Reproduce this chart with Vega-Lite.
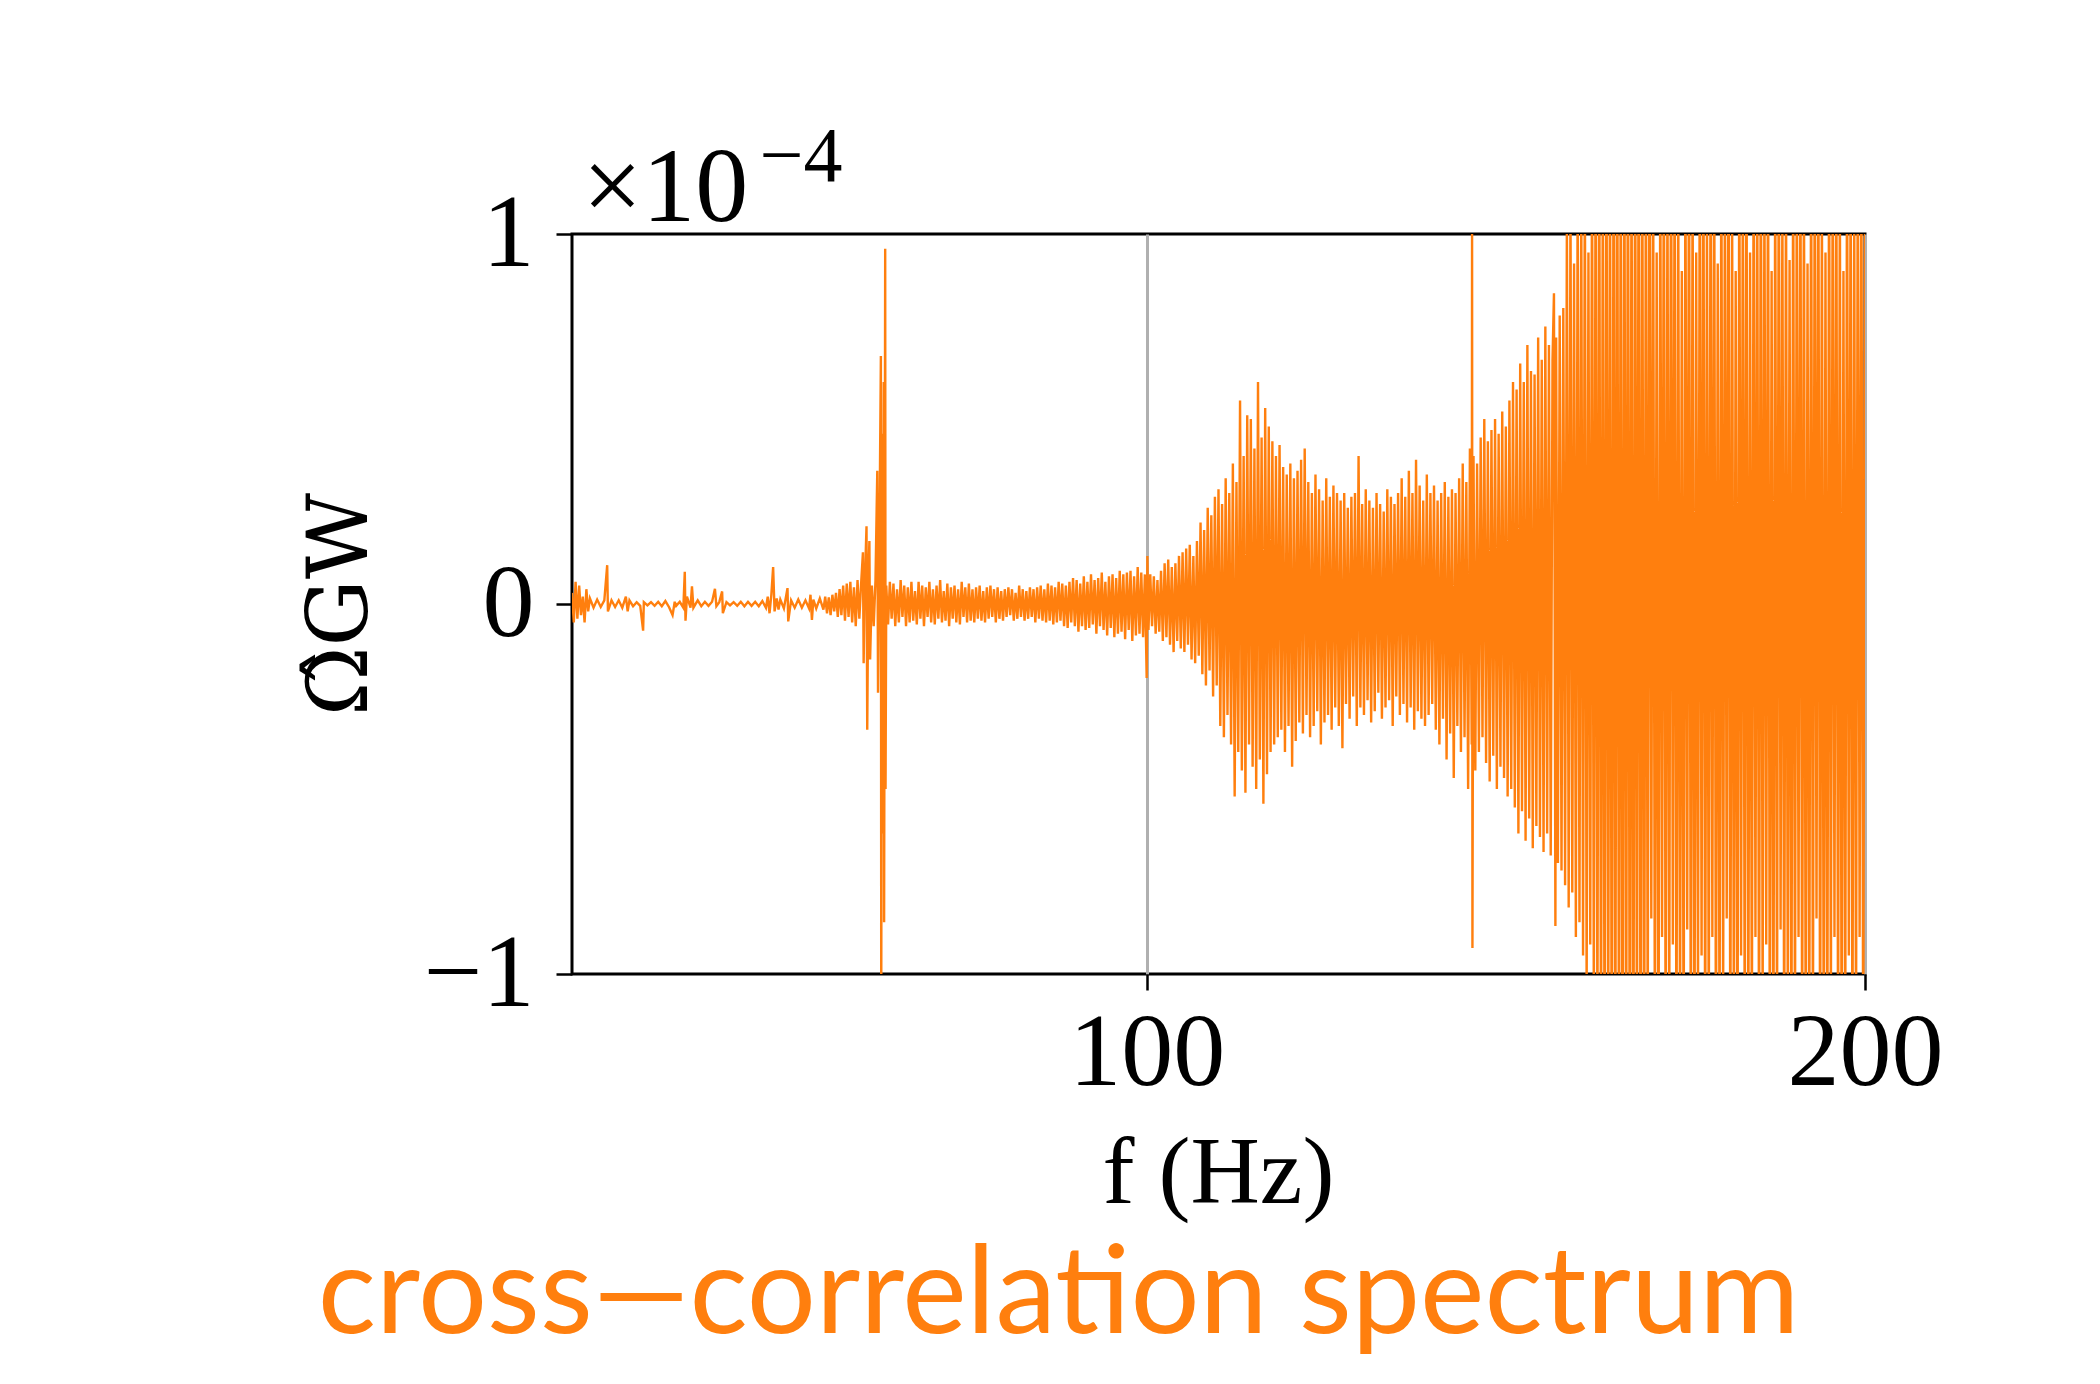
{
"$schema": "https://vega.github.io/schema/vega-lite/v6.json",
"width": 1293, "height": 740,
"autosize": "none",
"padding": {"left": 572, "top": 234, "right": 235, "bottom": 410},
"background": "white",
"title": {"text": "cross—correlation spectrum", "orient": "bottom", "anchor": "middle", "dx": -160, "offset": 16, "font": "Lato", "fontSize": 122, "fontWeight": "normal", "color": "#ff7f0e"},
"data": {"values": [
{"f":20.0,"v":0.03},{"f":20.25,"v":-0.05},{"f":20.5,"v":0.06},{"f":20.75,"v":-0.04},{"f":21.0,"v":0.05},{"f":21.25,"v":-0.03},{"f":21.5,"v":0.02},{"f":21.75,"v":-0.05},{"f":22.0,"v":0.04},{"f":22.25,"v":-0.02},{"f":22.5,"v":0.015},{"f":23.0,"v":-0.01},{"f":23.5,"v":0.012},{"f":24.0,"v":-0.008},{"f":24.5,"v":0.01},{"f":24.9,"v":0.105},{"f":25.0,"v":-0.02},{"f":25.5,"v":0.01},{"f":26.0,"v":-0.008},{"f":26.5,"v":0.01},{"f":27.0,"v":-0.01},{"f":27.5,"v":0.02},{"f":27.75,"v":-0.02},{"f":28.0,"v":0.01},{"f":28.5,"v":-0.006},{"f":29.0,"v":0.005},{"f":29.5,"v":-0.005},{"f":29.9,"v":-0.072},{"f":30.0,"v":0.005},{"f":30.5,"v":-0.004},{"f":31.0,"v":0.005},{"f":31.5,"v":-0.005},{"f":32.0,"v":0.006},{"f":32.5,"v":-0.006},{"f":33.0,"v":0.008},{"f":33.5,"v":-0.008},{"f":34.0,"v":-0.03},{"f":34.3,"v":0.006},{"f":34.5,"v":-0.005},{"f":35.0,"v":0.006},{"f":35.5,"v":-0.01},{"f":35.7,"v":0.087},{"f":35.8,"v":-0.045},{"f":36.0,"v":0.02},{"f":36.5,"v":-0.01},{"f":36.7,"v":0.048},{"f":36.9,"v":-0.01},{"f":37.5,"v":0.01},{"f":38.0,"v":-0.006},{"f":38.5,"v":0.006},{"f":39.0,"v":-0.005},{"f":39.5,"v":0.006},{"f":39.9,"v":0.041},{"f":40.1,"v":-0.006},{"f":40.5,"v":0.005},{"f":40.9,"v":0.034},{"f":41.0,"v":-0.025},{"f":41.5,"v":0.005},{"f":42.0,"v":-0.004},{"f":42.5,"v":0.005},{"f":43.0,"v":-0.005},{"f":43.5,"v":0.006},{"f":44.0,"v":-0.006},{"f":44.5,"v":0.006},{"f":45.0,"v":-0.005},{"f":45.5,"v":0.006},{"f":46.0,"v":-0.006},{"f":46.5,"v":0.008},{"f":47.0,"v":-0.01},{"f":47.25,"v":0.02},{"f":47.5,"v":-0.025},{"f":47.75,"v":0.025},{"f":48.0,"v":0.1},{"f":48.2,"v":-0.02},{"f":48.5,"v":0.015},{"f":48.75,"v":-0.015},{"f":49.0,"v":0.012},{"f":49.5,"v":-0.012},{"f":50.0,"v":0.043},{"f":50.1,"v":-0.047},{"f":50.5,"v":0.01},{"f":51.0,"v":-0.01},{"f":51.5,"v":0.012},{"f":52.0,"v":-0.01},{"f":52.5,"v":0.01},{"f":53.0,"v":-0.012},{"f":53.2,"v":0.025},{"f":53.4,"v":-0.043},{"f":53.6,"v":0.012},{"f":54.0,"v":-0.012},{"f":54.5,"v":0.015},{"f":55.0,"v":-0.015},
{"f":55.25,"v":0.02},{"f":55.5,"v":-0.025},{"f":55.75,"v":0.018},{"f":56.0,"v":-0.03},{"f":56.25,"v":0.025},{"f":56.5,"v":-0.02},{"f":56.75,"v":0.03},{"f":57.0,"v":-0.035},{"f":57.25,"v":0.04},{"f":57.5,"v":-0.03},{"f":57.75,"v":0.05},{"f":58.0,"v":-0.045},{"f":58.25,"v":0.055},{"f":58.5,"v":-0.035},{"f":58.75,"v":0.06},{"f":59.0,"v":-0.05},{"f":59.25,"v":0.045},{"f":59.5,"v":-0.06},{"f":59.75,"v":0.065},{"f":60.0,"v":-0.04},{"f":60.25,"v":0.055},{"f":60.5,"v":0.14},{"f":60.6,"v":-0.16},{"f":60.75,"v":0.05},{"f":61.0,"v":0.21},{"f":61.1,"v":-0.34},{"f":61.25,"v":0.06},{"f":61.4,"v":0.17},{"f":61.5,"v":-0.15},{"f":61.75,"v":0.05},{"f":62.0,"v":-0.06},{"f":62.25,"v":0.065},{"f":62.5,"v":0.36},{"f":62.6,"v":-0.24},{"f":62.75,"v":0.06},{"f":63.0,"v":0.67},{"f":63.05,"v":-1.1},{"f":63.15,"v":0.46},{"f":63.2,"v":-0.62},{"f":63.4,"v":0.6},{"f":63.45,"v":-0.86},{"f":63.6,"v":0.96},{"f":63.65,"v":-0.5},{"f":63.75,"v":0.05},{"f":64.0,"v":-0.055},{"f":64.25,"v":0.06},{"f":64.5,"v":-0.04},{"f":64.75,"v":0.055},{"f":65.0,"v":-0.06},{"f":65.25,"v":0.04},{"f":65.5,"v":-0.05},{"f":65.75,"v":0.065},{"f":66.0,"v":-0.035},{"f":66.25,"v":0.05},{"f":66.5,"v":-0.06},{"f":66.75,"v":0.045},{"f":67.0,"v":-0.05},{"f":67.25,"v":0.06},{"f":67.5,"v":-0.045},{"f":67.75,"v":0.035},{"f":68.0,"v":-0.055},{"f":68.25,"v":0.06},{"f":68.5,"v":-0.04},{"f":68.75,"v":0.05},{"f":69.0,"v":-0.06},{"f":69.25,"v":0.045},{"f":69.5,"v":-0.035},{"f":69.75,"v":0.06},{"f":70.0,"v":-0.05},{"f":70.25,"v":0.04},{"f":70.5,"v":-0.055},{"f":70.75,"v":0.05},{"f":71.0,"v":-0.04},{"f":71.25,"v":0.065},{"f":71.5,"v":-0.05},{"f":71.75,"v":0.035},{"f":72.0,"v":-0.045},{"f":72.25,"v":0.055},{"f":72.5,"v":-0.06},{"f":72.75,"v":0.045},{"f":73.0,"v":-0.04},{"f":73.25,"v":0.05},{"f":73.5,"v":-0.05},{"f":73.75,"v":0.04},{"f":74.0,"v":-0.055},{"f":74.25,"v":0.06},{"f":74.5,"v":-0.035},{"f":74.75,"v":0.045},{"f":75.0,"v":-0.05},{"f":75.25,"v":0.055},{"f":75.5,"v":-0.045},{"f":75.75,"v":0.04},{"f":76.0,"v":-0.05},{"f":76.25,"v":0.045},{"f":76.5,"v":-0.04},{"f":76.75,"v":0.05},{"f":77.0,"v":-0.045},{"f":77.25,"v":0.035},{"f":77.5,"v":-0.05},{"f":77.75,"v":0.045},{"f":78.0,"v":-0.04},{"f":78.25,"v":0.05},{"f":78.5,"v":-0.035},{"f":78.75,"v":0.04},{"f":79.0,"v":-0.05},{"f":79.25,"v":0.045},{"f":79.5,"v":-0.04},{"f":79.75,"v":0.035},{"f":80.0,"v":-0.045},{"f":80.25,"v":0.04},{"f":80.5,"v":-0.035},{"f":80.75,"v":0.045},{"f":81.0,"v":-0.03},{"f":81.25,"v":0.04},{"f":81.5,"v":-0.045},{"f":81.75,"v":0.03},{"f":82.0,"v":-0.04},{"f":82.25,"v":0.05},{"f":82.5,"v":-0.035},{"f":82.75,"v":0.04},{"f":83.0,"v":-0.045},{"f":83.25,"v":0.035},{"f":83.5,"v":-0.04},{"f":83.75,"v":0.045},{"f":84.0,"v":-0.035},{"f":84.25,"v":0.04},{"f":84.5,"v":-0.05},{"f":84.75,"v":0.045},{"f":85.0,"v":-0.04},{"f":85.25,"v":0.05},{"f":85.5,"v":-0.045},{"f":85.75,"v":0.04},{"f":86.0,"v":-0.05},{"f":86.25,"v":0.055},{"f":86.5,"v":-0.045},{"f":86.75,"v":0.05},{"f":87.0,"v":-0.055},{"f":87.25,"v":0.045},{"f":87.5,"v":-0.05},{"f":87.75,"v":0.06},{"f":88.0,"v":-0.045},{"f":88.25,"v":0.055},{"f":88.5,"v":-0.06},{"f":88.75,"v":0.05},{"f":89.0,"v":-0.065},{"f":89.25,"v":0.06},{"f":89.5,"v":-0.05},{"f":89.75,"v":0.07},{"f":90.0,"v":-0.06},{"f":90.25,"v":0.065},{"f":90.5,"v":-0.075},{"f":90.75,"v":0.055},{"f":91.0,"v":-0.06},{"f":91.25,"v":0.075},{"f":91.5,"v":-0.07},{"f":91.75,"v":0.06},{"f":92.0,"v":-0.065},{"f":92.25,"v":0.08},{"f":92.5,"v":-0.055},{"f":92.75,"v":0.065},{"f":93.0,"v":-0.08},{"f":93.25,"v":0.07},{"f":93.5,"v":-0.06},{"f":93.75,"v":0.085},{"f":94.0,"v":-0.07},{"f":94.25,"v":0.06},{"f":94.5,"v":-0.085},{"f":94.75,"v":0.075},{"f":95.0,"v":-0.065},{"f":95.25,"v":0.08},{"f":95.5,"v":-0.09},{"f":95.75,"v":0.07},{"f":96.0,"v":-0.08},{"f":96.25,"v":0.09},{"f":96.5,"v":-0.075},{"f":96.75,"v":0.08},{"f":97.0,"v":-0.095},{"f":97.25,"v":0.085},{"f":97.5,"v":-0.07},{"f":97.75,"v":0.09},{"f":98.0,"v":-0.1},{"f":98.25,"v":0.075},{"f":98.5,"v":-0.085},{"f":98.75,"v":0.1},{"f":99.0,"v":-0.08},{"f":99.25,"v":0.085},{"f":99.5,"v":-0.09},{"f":99.75,"v":0.08},{"f":100.0,"v":-0.2},{"f":100.1,"v":0.13},
{"f":100.25,"v":-0.07},{"f":100.5,"v":0.08},{"f":100.75,"v":-0.06},{"f":101.0,"v":0.075},{"f":101.25,"v":-0.08},{"f":101.5,"v":0.065},{"f":101.75,"v":-0.075},{"f":102.0,"v":0.09},{"f":102.25,"v":-0.1},{"f":102.5,"v":0.11},{"f":102.75,"v":-0.09},{"f":103.0,"v":0.12},{"f":103.25,"v":-0.11},{"f":103.5,"v":0.1},{"f":103.75,"v":-0.13},{"f":104.0,"v":0.11},{"f":104.25,"v":-0.1},{"f":104.5,"v":0.13},{"f":104.75,"v":-0.12},{"f":105.0,"v":0.14},{"f":105.25,"v":-0.13},{"f":105.5,"v":0.15},{"f":105.75,"v":-0.11},{"f":106.0,"v":0.16},{"f":106.25,"v":-0.15},{"f":106.5,"v":0.13},{"f":106.75,"v":-0.16},{"f":107.0,"v":0.17},{"f":107.25,"v":-0.14},{"f":107.5,"v":0.22},{"f":107.75,"v":-0.19},{"f":108.0,"v":0.2},{"f":108.25,"v":-0.22},{"f":108.5,"v":0.26},{"f":108.75,"v":-0.18},{"f":109.0,"v":0.24},{"f":109.25,"v":-0.25},{"f":109.5,"v":0.29},{"f":109.75,"v":-0.22},{"f":110.0,"v":0.31},{"f":110.25,"v":-0.33},{"f":110.5,"v":0.27},{"f":110.75,"v":-0.36},{"f":111.0,"v":0.34},{"f":111.25,"v":-0.3},{"f":111.5,"v":0.3},{"f":111.75,"v":-0.38},{"f":112.0,"v":0.38},{"f":112.25,"v":-0.52},{"f":112.5,"v":0.33},{"f":112.75,"v":-0.4},{"f":113.0,"v":0.55},{"f":113.25,"v":-0.45},{"f":113.5,"v":0.4},{"f":113.75,"v":-0.51},{"f":114.0,"v":0.51},{"f":114.25,"v":-0.38},{"f":114.5,"v":0.5},{"f":114.75,"v":-0.44},{"f":115.0,"v":0.42},{"f":115.25,"v":-0.5},{"f":115.5,"v":0.6},{"f":115.75,"v":-0.42},{"f":116.0,"v":0.45},{"f":116.25,"v":-0.54},{"f":116.5,"v":0.53},{"f":116.75,"v":-0.46},{"f":117.0,"v":0.48},{"f":117.25,"v":-0.4},{"f":117.5,"v":0.44},{"f":117.75,"v":-0.38},{"f":118.0,"v":0.4},{"f":118.25,"v":-0.36},{"f":118.5,"v":0.43},{"f":118.75,"v":-0.34},{"f":119.0,"v":0.37},{"f":119.25,"v":-0.4},{"f":119.5,"v":0.35},{"f":119.75,"v":-0.33},{"f":120.0,"v":0.38},{"f":120.25,"v":-0.44},{"f":120.5,"v":0.34},{"f":120.75,"v":-0.37},{"f":121.0,"v":0.36},{"f":121.25,"v":-0.32},{"f":121.5,"v":0.39},{"f":121.75,"v":-0.35},{"f":122.0,"v":0.42},{"f":122.25,"v":-0.3},{"f":122.5,"v":0.33},{"f":122.75,"v":-0.36},{"f":123.0,"v":0.3},{"f":123.25,"v":-0.33},{"f":123.5,"v":0.35},{"f":123.75,"v":-0.29},{"f":124.0,"v":0.31},{"f":124.25,"v":-0.38},{"f":124.5,"v":0.28},{"f":124.75,"v":-0.32},{"f":125.0,"v":0.34},{"f":125.25,"v":-0.3},{"f":125.5,"v":0.29},{"f":125.75,"v":-0.34},{"f":126.0,"v":0.32},{"f":126.25,"v":-0.28},{"f":126.5,"v":0.3},{"f":126.75,"v":-0.33},{"f":127.0,"v":0.28},{"f":127.25,"v":-0.39},{"f":127.5,"v":0.3},{"f":127.75,"v":-0.27},{"f":128.0,"v":0.26},{"f":128.25,"v":-0.31},{"f":128.5,"v":0.29},{"f":128.75,"v":-0.25},{"f":129.0,"v":0.3},{"f":129.25,"v":-0.33},{"f":129.5,"v":0.4},{"f":129.75,"v":-0.28},{"f":130.0,"v":0.27},{"f":130.25,"v":-0.3},{"f":130.5,"v":0.31},{"f":130.75,"v":-0.26},{"f":131.0,"v":0.28},{"f":131.25,"v":-0.32},{"f":131.5,"v":0.26},{"f":131.75,"v":-0.29},{"f":132.0,"v":0.3},{"f":132.25,"v":-0.24},{"f":132.5,"v":0.27},{"f":132.75,"v":-0.31},{"f":133.0,"v":0.25},{"f":133.25,"v":-0.28},{"f":133.5,"v":0.31},{"f":133.75,"v":-0.26},{"f":134.0,"v":0.29},{"f":134.25,"v":-0.33},{"f":134.5,"v":0.27},{"f":134.75,"v":-0.25},{"f":135.0,"v":0.3},{"f":135.25,"v":-0.3},{"f":135.5,"v":0.34},{"f":135.75,"v":-0.27},{"f":136.0,"v":0.29},{"f":136.25,"v":-0.32},{"f":136.5,"v":0.36},{"f":136.75,"v":-0.28},{"f":137.0,"v":0.3},{"f":137.25,"v":-0.34},{"f":137.5,"v":0.39},{"f":137.75,"v":-0.29},{"f":138.0,"v":0.32},{"f":138.25,"v":-0.31},{"f":138.5,"v":0.28},{"f":138.75,"v":-0.33},{"f":139.0,"v":0.35},{"f":139.25,"v":-0.3},{"f":139.5,"v":0.3},{"f":139.75,"v":-0.27},{"f":140.0,"v":0.32},{"f":140.25,"v":-0.34},{"f":140.5,"v":0.28},{"f":140.75,"v":-0.38},{"f":141.0,"v":0.3},{"f":141.25,"v":-0.31},{"f":141.5,"v":0.33},{"f":141.75,"v":-0.42},{"f":142.0,"v":0.29},{"f":142.25,"v":-0.35},{"f":142.5,"v":0.31},{"f":142.75,"v":-0.47},{"f":143.0,"v":0.3},{"f":143.25,"v":-0.33},{"f":143.5,"v":0.34},{"f":143.75,"v":-0.4},{"f":144.0,"v":0.38},{"f":144.25,"v":-0.36},{"f":144.5,"v":0.33},{"f":144.75,"v":-0.5},{"f":145.0,"v":0.42},{"f":145.25,"v":-0.38},{"f":145.3,"v":1.05},{"f":145.35,"v":-0.93},{"f":145.5,"v":0.4},{"f":145.75,"v":-0.45},{"f":146.0,"v":0.38},{"f":146.25,"v":-0.4},{"f":146.5,"v":0.45},{"f":146.75,"v":-0.36},{"f":147.0,"v":0.5},{"f":147.25,"v":-0.43},{"f":147.5,"v":0.44},{"f":147.75,"v":-0.48},{"f":148.0,"v":0.47},{"f":148.25,"v":-0.41},{"f":148.5,"v":0.5},{"f":148.75,"v":-0.5},{"f":149.0,"v":0.46},{"f":149.25,"v":-0.44},{"f":149.5,"v":0.52},{"f":149.75,"v":-0.47},{"f":150.0,"v":0.48},{"f":150.25,"v":-0.52},{"f":150.5,"v":0.55},{"f":150.75,"v":-0.5},{"f":151.0,"v":0.6},{"f":151.25,"v":-0.55},{"f":151.5,"v":0.58},{"f":151.75,"v":-0.62},{"f":152.0,"v":0.65},{"f":152.25,"v":-0.56},{"f":152.5,"v":0.6},{"f":152.75,"v":-0.64},{"f":153.0,"v":0.7},{"f":153.25,"v":-0.58},{"f":153.5,"v":0.63},{"f":153.75,"v":-0.66},{"f":154.0,"v":0.62},{"f":154.25,"v":-0.6},{"f":154.5,"v":0.72},{"f":154.75,"v":-0.63},{"f":155.0,"v":0.66},{"f":155.25,"v":-0.67},{"f":155.5,"v":0.75},{"f":155.75,"v":-0.62},{"f":156.0,"v":0.7},{"f":156.25,"v":-0.68},{"f":156.5,"v":0.66},{"f":156.7,"v":0.84},{"f":156.9,"v":-0.87},{"f":157.0,"v":0.72},{"f":157.25,"v":-0.7},{"f":157.5,"v":0.78},{"f":157.75,"v":-0.72},{"f":158.0,"v":0.8},{"f":158.25,"v":-0.76},{"f":158.5,"v":1.05},{"f":158.75,"v":-0.82},{"f":159.0,"v":1.1},{"f":159.25,"v":-0.78},{"f":159.5,"v":0.92},{"f":159.75,"v":-0.9},{"f":160.0,"v":1.15},{"f":160.25,"v":-0.86},{"f":160.5,"v":1.1},{"f":160.75,"v":-0.95},{"f":161.0,"v":1.2},{"f":161.25,"v":-1.05},{"f":161.5,"v":0.95},{"f":161.75,"v":-0.92},{"f":162.0,"v":1.25},{"f":162.25,"v":-1.1},
{"f":162.5,"v":1.3},{"f":162.75,"v":-1.2},{"f":163.0,"v":1.4},{"f":163.25,"v":-1.3},{"f":163.5,"v":1.2},{"f":163.75,"v":-1.4},{"f":164.0,"v":1.5},{"f":164.25,"v":-1.25},{"f":164.5,"v":1.3},{"f":164.75,"v":-1.5},{"f":165.0,"v":1.4},{"f":165.25,"v":-1.3},{"f":165.5,"v":1.6},{"f":165.75,"v":-1.4},{"f":166.0,"v":1.3},{"f":166.25,"v":-1.5},{"f":166.5,"v":1.4},{"f":166.75,"v":-1.35},{"f":167.0,"v":1.5},{"f":167.25,"v":-1.45},{"f":167.5,"v":1.3},{"f":167.75,"v":-1.6},{"f":168.0,"v":1.45},{"f":168.25,"v":-1.3},{"f":168.5,"v":1.55},{"f":168.75,"v":-1.4},{"f":169.0,"v":1.3},{"f":169.25,"v":-1.5},{"f":169.5,"v":1.35},{"f":169.75,"v":-1.2},{"f":170.0,"v":1.4},{"f":170.25,"v":-0.85},{"f":170.5,"v":1.3},{"f":170.75,"v":-1.25},{"f":171.0,"v":0.95},{"f":171.25,"v":-1.4},{"f":171.5,"v":1.25},{"f":171.75,"v":-0.9},{"f":172.0,"v":1.35},{"f":172.25,"v":-1.3},{"f":172.5,"v":1.2},{"f":172.75,"v":-1.15},{"f":173.0,"v":1.4},{"f":173.25,"v":-0.92},{"f":173.5,"v":1.3},{"f":173.75,"v":-1.35},{"f":174.0,"v":1.15},{"f":174.25,"v":-1.2},{"f":174.5,"v":0.9},{"f":174.75,"v":-1.3},{"f":175.0,"v":1.25},{"f":175.25,"v":-0.88},{"f":175.5,"v":1.35},{"f":175.75,"v":-1.25},{"f":176.0,"v":1.2},{"f":176.25,"v":-1.4},{"f":176.5,"v":0.95},{"f":176.75,"v":-1.1},{"f":177.0,"v":1.3},{"f":177.25,"v":-0.95},{"f":177.5,"v":1.4},{"f":177.75,"v":-1.3},{"f":178.0,"v":1.1},{"f":178.25,"v":-1.2},{"f":178.5,"v":1.25},{"f":178.75,"v":-0.9},{"f":179.0,"v":1.35},{"f":179.25,"v":-1.3},{"f":179.5,"v":0.92},{"f":179.75,"v":-1.25},{"f":180.0,"v":1.3},{"f":180.25,"v":-1.1},{"f":180.5,"v":1.2},{"f":180.75,"v":-0.85},{"f":181.0,"v":1.4},{"f":181.25,"v":-1.3},{"f":181.5,"v":1.1},{"f":181.75,"v":-1.2},{"f":182.0,"v":0.9},{"f":182.25,"v":-1.35},{"f":182.5,"v":1.3},{"f":182.75,"v":-0.95},{"f":183.0,"v":1.25},{"f":183.25,"v":-1.15},{"f":183.5,"v":1.35},{"f":183.75,"v":-1.3},{"f":184.0,"v":0.95},{"f":184.25,"v":-1.2},{"f":184.5,"v":1.3},{"f":184.75,"v":-0.9},{"f":185.0,"v":1.2},{"f":185.25,"v":-1.3},{"f":185.5,"v":1.4},{"f":185.75,"v":-1.1},{"f":186.0,"v":1.15},{"f":186.25,"v":-0.92},{"f":186.5,"v":1.3},{"f":186.75,"v":-1.25},{"f":187.0,"v":0.9},{"f":187.25,"v":-1.3},{"f":187.5,"v":1.25},{"f":187.75,"v":-1.2},{"f":188.0,"v":1.35},{"f":188.25,"v":-0.88},{"f":188.5,"v":1.1},{"f":188.75,"v":-1.3},{"f":189.0,"v":1.2},{"f":189.25,"v":-1.1},{"f":189.5,"v":0.93},{"f":189.75,"v":-1.35},{"f":190.0,"v":1.3},{"f":190.25,"v":-1.2},{"f":190.5,"v":1.15},{"f":190.75,"v":-0.9},{"f":191.0,"v":1.4},{"f":191.25,"v":-1.25},{"f":191.5,"v":1.2},{"f":191.75,"v":-1.3},{"f":192.0,"v":0.92},{"f":192.25,"v":-1.15},{"f":192.5,"v":1.3},{"f":192.75,"v":-1.2},{"f":193.0,"v":1.25},{"f":193.25,"v":-0.85},{"f":193.5,"v":1.35},{"f":193.75,"v":-1.3},{"f":194.0,"v":1.1},{"f":194.25,"v":-1.2},{"f":194.5,"v":0.95},{"f":194.75,"v":-1.35},{"f":195.0,"v":1.3},{"f":195.25,"v":-1.1},{"f":195.5,"v":1.2},{"f":195.75,"v":-0.9},{"f":196.0,"v":1.35},{"f":196.25,"v":-1.25},{"f":196.5,"v":1.15},{"f":196.75,"v":-1.3},{"f":197.0,"v":0.9},{"f":197.25,"v":-1.2},{"f":197.5,"v":1.3},{"f":197.75,"v":-0.95},{"f":198.0,"v":1.25},{"f":198.25,"v":-1.3},{"f":198.5,"v":1.1},{"f":198.75,"v":-1.2},{"f":199.0,"v":1.35},{"f":199.25,"v":-0.9},{"f":199.5,"v":1.2},{"f":199.75,"v":-1.3},{"f":200.0,"v":1.1}
]},
"layer": [
{
"mark": {"type": "line", "color": "#ff7f0e", "strokeWidth": 2.4, "clip": true},
"encoding": {
"x": {"field": "f", "type": "quantitative", "scale": {"domain": [20, 200], "nice": false, "zero": false},
"axis": {"orient": "bottom", "values": [100, 200], "format": "d", "title": "f (Hz)", "grid": true, "gridColor": "#b0b0b0", "gridWidth": 3, "domain": false, "tickSize": 16, "tickWidth": 2.5, "tickColor": "black", "labelFont": "Liberation Serif", "labelFontSize": 104, "labelColor": "black", "labelPadding": 12, "labelFlush": false, "labelOverlap": false, "titleFont": "Liberation Serif", "titleFontSize": 96, "titleFontWeight": "normal", "titleColor": "black", "titleX": 646, "titleY": 228, "titleBaseline": "alphabetic", "titleAlign": "center"}},
"y": {"field": "v", "type": "quantitative", "scale": {"domain": [-1, 1], "nice": false, "zero": false},
"axis": {"values": [-1, -0.0001, 1], "labelExpr": "datum.value > 0.5 ? '1' : (datum.value < -0.5 ? '−1' : '0')", "grid": false, "domain": false, "tickSize": 16, "tickWidth": 2.5, "tickColor": "black", "labelFont": "Liberation Serif", "labelFontSize": 104, "labelColor": "black", "labelPadding": 22, "labelFlush": false, "labelOverlap": false, "labelBaseline": "middle", "title": "Ω̂GW", "titleFont": "DejaVu Serif", "titleFontSize": 84, "titleFontWeight": "normal", "titleColor": "black", "titleAngle": -90, "titleX": -206, "titleY": 370, "titleBaseline": "alphabetic", "titleAlign": "center", "titleLimit": 0}}
}
},
{
"mark": {"type": "line", "opacity": 0},
"encoding": {
"x": {"field": "f", "type": "quantitative",
"axis": {"orient": "top", "labels": false, "ticks": false, "domain": false, "grid": false, "title": "×10", "titleFont": "Liberation Serif", "titleFontSize": 106, "titleFontWeight": "normal", "titleColor": "black", "titleAngle": 0, "titleX": 10, "titleY": -14, "titleAlign": "left", "titleBaseline": "alphabetic"}},
"y": {"field": "v", "type": "quantitative",
"axis": {"orient": "right", "labels": false, "ticks": false, "domain": false, "grid": false, "title": "−4", "titleFont": "Liberation Serif", "titleFontSize": 78, "titleFontWeight": "normal", "titleColor": "black", "titleAngle": 0, "titleX": -1106, "titleY": -54, "titleAlign": "left", "titleBaseline": "alphabetic"}}
}
}
],
"resolve": {"axis": {"x": "independent", "y": "independent"}},
"config": {"view": {"stroke": "black", "strokeWidth": 3}}
}
